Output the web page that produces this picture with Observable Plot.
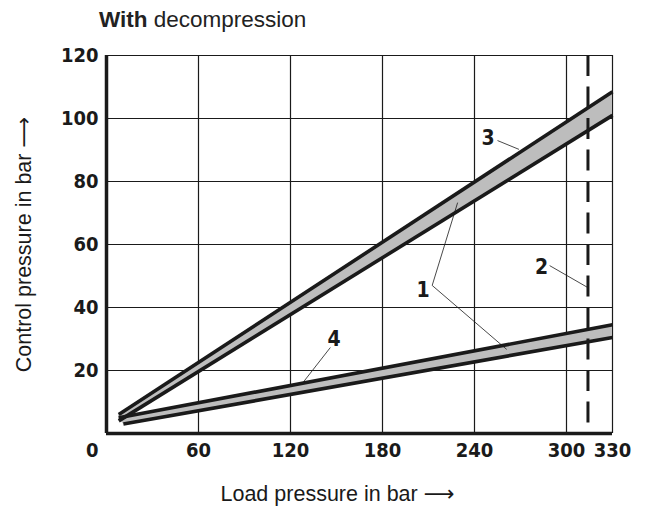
<!DOCTYPE html>
<html>
<head>
<meta charset="utf-8">
<script src="https://cdn.jsdelivr.net/npm/d3@7"></script>
<script src="https://cdn.jsdelivr.net/npm/@observablehq/plot@0.6"></script>
<style>
  html, body { margin: 0; padding: 0; background: #fff; }
  #title { box-sizing: border-box; height: 40px; padding: 7px 0 0 99px; font: 22.5px "Liberation Sans", Arial, sans-serif; color: #222; line-height: normal; white-space: nowrap; }
  #title b { font-weight: bold; }
  #chart svg { display: block; }
</style>
</head>
<body>
<div id="title"><b>With</b> decompression</div>
<div id="chart"></div>
<script>
// Axis ticks
const xTicks = [60, 120, 180, 240, 300, 330];
const yTicks = [20, 40, 60, 80, 100, 120];
const xGrid = [60, 120, 180, 240, 300];
const yGrid = [20, 40, 60, 80, 100];

// Curve 3 (upper band): load pressure vs control pressure
const band3X = [8, 330];
const band3High = [6, 108.5];
const band3Low = [4, 101];

// Curve 4 (lower band)
const band4HighX = [8, 330];
const band4High = [5, 34.5];
const band4LowX = [11, 330];
const band4Low = [3, 30.5];

// Max load pressure (2)
const maxLoad = [314];

// Callout labels and leader lines
const calloutText = ["3", "1", "2", "4"];
const calloutX = [248.9, 206.5, 283.7, 148.5];
const calloutY = [93.8, 45.4, 52.9, 30];
const leaderX1 = [255, 212.4, 212.4, 289, 146];
const leaderY1 = [93, 47, 47, 53.3, 27.3];
const leaderX2 = [269, 229, 261, 314, 127.7];
const leaderY2 = [90.2, 73.3, 26.7, 46.3, 15.9];

const cornerLabel = ["0"];
const xTitle = ["Load pressure in bar ⟶"];
const yTitle = ["Control pressure in bar ⟶"];

const tickFont = '"DejaVu Sans Condensed", "Liberation Sans Narrow", sans-serif';
const labelFont = '"Liberation Sans", "DejaVu Sans", Arial, sans-serif';

const band3 = band3X.map((x, i) => ({x1: x, y1: band3Low[i], x2: x, y2: band3High[i]}));
const band4 = band4HighX.map((x, i) => ({x1: band4LowX[i], y1: band4Low[i], x2: x, y2: band4High[i]}));
const line3High = band3X.map((x, i) => ({x, y: band3High[i]}));
const line3Low = band3X.map((x, i) => ({x, y: band3Low[i]}));
const line4High = band4HighX.map((x, i) => ({x, y: band4High[i]}));
const line4Low = band4LowX.map((x, i) => ({x, y: band4Low[i]}));
const leaders = leaderX1.map((x, i) => ({x1: x, y1: leaderY1[i], x2: leaderX2[i], y2: leaderY2[i]}));
const callouts = calloutText.map((t, i) => ({t, x: calloutX[i], y: calloutY[i]}));

const ink = "#1a1a1a";

const chart = Plot.plot({
  width: 654,
  height: 469,
  marginLeft: 106,
  marginRight: 42,
  marginTop: 15,
  marginBottom: 76,
  x: {domain: [0, 330]},
  y: {domain: [0, 120]},
  style: {background: "#fff", color: ink},
  marks: [
    // grid
    Plot.ruleX(xGrid, {stroke: ink, strokeWidth: 1.2}),
    Plot.ruleY(yGrid, {stroke: ink, strokeWidth: 1.2}),
    Plot.ruleX([330], {stroke: ink, strokeWidth: 1.2}),
    Plot.ruleY([120], {stroke: ink, strokeWidth: 1.2}),
    // bands
    Plot.area(band3, {x1: "x1", y1: "y1", x2: "x2", y2: "y2", fill: "#bdbdbd"}),
    Plot.area(band4, {x1: "x1", y1: "y1", x2: "x2", y2: "y2", fill: "#bdbdbd"}),
    Plot.line(line3High, {x: "x", y: "y", stroke: ink, strokeWidth: 3.6, strokeLinecap: "butt"}),
    Plot.line(line3Low, {x: "x", y: "y", stroke: ink, strokeWidth: 3.6, strokeLinecap: "butt"}),
    Plot.line(line4High, {x: "x", y: "y", stroke: ink, strokeWidth: 3.6, strokeLinecap: "butt"}),
    Plot.line(line4Low, {x: "x", y: "y", stroke: ink, strokeWidth: 3.6, strokeLinecap: "butt"}),
    // dashed max line
    Plot.ruleX(maxLoad, {stroke: ink, strokeWidth: 3, strokeDasharray: "21,10.5"}),
    // leaders and callouts
    Plot.link(leaders, {x1: "x1", y1: "y1", x2: "x2", y2: "y2", stroke: ink, strokeWidth: 0.8}),
    Plot.text(callouts, {x: "x", y: "y", text: "t", fontSize: 21, fontWeight: "bold", fontFamily: tickFont, fill: ink, textAnchor: "middle", lineAnchor: "middle"}),
    // thick axes
    Plot.ruleX([0], {stroke: ink, strokeWidth: 3.5}),
    Plot.ruleY([0], {stroke: ink, strokeWidth: 3.5}),
    // tick labels
    Plot.axisY(yTicks, {tickSize: 0, tickPadding: 8, label: null, fontSize: 20, fontWeight: "bold", fontFamily: tickFont, fill: ink}),
    Plot.axisX(xTicks, {tickSize: 0, tickPadding: 9, label: null, fontSize: 20, fontWeight: "bold", fontFamily: tickFont, fill: ink}),
    Plot.text(cornerLabel, {x: 0, y: 0, text: d => d, dx: -8, dy: 17, textAnchor: "end", lineAnchor: "middle", fontSize: 20, fontWeight: "bold", fontFamily: tickFont, fill: ink}),
    // axis titles
    Plot.text(xTitle, {frameAnchor: "bottom", dx: -22, dy: 61, text: d => d, lineAnchor: "middle", textAnchor: "middle", fontSize: 21.5, fontFamily: labelFont, fill: ink}),
    Plot.text(yTitle, {frameAnchor: "left", dx: -82, text: d => d, rotate: -90, lineAnchor: "middle", textAnchor: "middle", fontSize: 21.5, fontFamily: labelFont, fill: ink})
  ]
});
document.getElementById("chart").appendChild(chart);
</script>
</body>
</html>
